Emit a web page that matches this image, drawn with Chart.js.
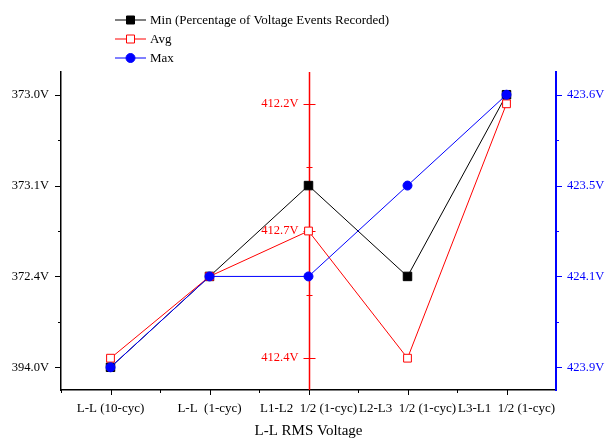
<!DOCTYPE html>
<html>
<head>
<meta charset="utf-8">
<script src="https://cdn.jsdelivr.net/npm/chart.js@4.4.1/dist/chart.umd.min.js"></script>
<style>
  html, body { margin: 0; padding: 0; background: #fff; }
</style>
</head>
<body>
<canvas id="spannungsDiagramm" width="616" height="439"></canvas>
<script>
// Kategorien der x-Achse
const kategorien = ['L-L (10-cyc)', 'L-L  (1-cyc)', 'L1-L2  1/2 (1-cyc)', 'L2-L3  1/2 (1-cyc)', 'L3-L1  1/2 (1-cyc)'];

// Werte (auf gemeinsamer Skala, Ticks 0..3)
const minWerte = [0, 1, 2, 1, 3];
const avgWerte = [0.1, 1, 1.5, 0.1, 2.9];
const maxWerte = [0, 1, 1, 2, 3];

// Achsenbeschriftungen
const linksTicks = [0, 1, 2, 3];
const linksLabels = ['394.0V', '372.4V', '373.1V', '373.0V'];   // schwarz, links
const rechtsLabels = ['423.9V', '424.1V', '423.5V', '423.6V'];  // blau, rechts
const mitteTicks = [0.1, 1.5, 2.9];
const mitteLabels = ['412.4V', '412.7V', '412.2V'];             // rot, Mitte
const mitteNebenTicks = [0.8, 2.2];
const mitteKategorie = 2;

const schrift = 'Liberation Serif';
Chart.defaults.font.family = schrift;

function strich(ctx, x1, y1, x2, y2) {
  ctx.beginPath();
  ctx.moveTo(x1, y1);
  ctx.lineTo(x2, y2);
  ctx.stroke();
}

// Zeichnet die rote Mittelachse und alle Tick-Striche
const achsenStriche = {
  id: 'achsenStriche',
  beforeDatasetsDraw(chart) {
    const { ctx, chartArea, scales: { x, y } } = chart;
    const xm = Math.round(x.getPixelForValue(mitteKategorie)) + 0.5;
    ctx.save();
    ctx.strokeStyle = '#ff0000';
    ctx.lineWidth = 1.5;
    strich(ctx, xm, chartArea.top, xm, chartArea.bottom);
    ctx.lineWidth = 1;
    mitteTicks.forEach(v => {
      const py = Math.round(y.getPixelForValue(v)) + 0.5;
      strich(ctx, xm - 6, py, xm + 6, py);
    });
    mitteNebenTicks.forEach(v => {
      const py = Math.round(y.getPixelForValue(v)) + 0.5;
      strich(ctx, xm - 3, py, xm + 3, py);
    });
    ctx.fillStyle = '#ff0000';
    ctx.font = '12.5px "' + schrift + '"';
    ctx.textAlign = 'right';
    ctx.textBaseline = 'middle';
    mitteTicks.forEach((v, i) => {
      ctx.fillText(mitteLabels[i], xm - 11, y.getPixelForValue(v));
    });
    ctx.restore();
  },
  afterDraw(chart) {
    const { ctx, chartArea, scales: { x, y } } = chart;
    ctx.save();
    ctx.lineWidth = 1;
    // links + rechts
    const l = chartArea.left, r = chartArea.right;
    linksTicks.forEach(v => {
      const py = Math.round(y.getPixelForValue(v)) + 0.5;
      ctx.strokeStyle = '#000';
      strich(ctx, l - 6, py, l, py);
      ctx.strokeStyle = '#0000ff';
      strich(ctx, r, py, r + 6, py);
      if (v < 3) {
        const pm = Math.round(y.getPixelForValue(v + 0.5)) + 0.5;
        ctx.strokeStyle = '#000';
        strich(ctx, l - 3, pm, l, pm);
        ctx.strokeStyle = '#0000ff';
        strich(ctx, r, pm, r + 3, pm);
      }
    });
    // x-Achse
    const b = chartArea.bottom;
    const halb = (x.getPixelForValue(1) - x.getPixelForValue(0)) / 2;
    ctx.strokeStyle = '#000';
    kategorien.forEach((k, i) => {
      const px = Math.round(x.getPixelForValue(i)) + 0.5;
      strich(ctx, px, b, px, b + 5);
      const pb = Math.round(x.getPixelForValue(i) - halb) + 0.5;
      strich(ctx, pb, b, pb, b + 3);
    });
    ctx.restore();
  }
};

// Legende oben, untereinander
const legendeOben = {
  id: 'legendeOben',
  afterDraw(chart) {
    const { ctx } = chart;
    const zeilen = [20, 39, 58];
    const x0 = 115, x1 = 146, xm = 130.5, xt = 150;
    ctx.save();
    ctx.font = '13px "' + schrift + '"';
    ctx.textBaseline = 'middle';
    ctx.textAlign = 'left';
    chart.data.datasets.forEach((ds, i) => {
      const yy = zeilen[i];
      ctx.strokeStyle = ds.borderColor;
      ctx.lineWidth = 1;
      strich(ctx, x0, yy, x1, yy);
      ctx.fillStyle = ds.pointBackgroundColor;
      ctx.strokeStyle = ds.borderColor;
      ctx.beginPath();
      if (ds.pointStyle === 'circle') {
        ctx.arc(xm, yy, 4.5, 0, Math.PI * 2);
      } else {
        ctx.rect(xm - 4, yy - 4, 8, 8);
      }
      ctx.fill();
      ctx.stroke();
      ctx.fillStyle = '#000';
      ctx.fillText(ds.label, xt, yy + 1);
    });
    ctx.restore();
  }
};

const tickSchrift = { family: schrift, size: 12.5 };

new Chart(document.querySelector('#spannungsDiagramm'), {
  type: 'line',
  data: {
    labels: kategorien,
    datasets: [
      {
        label: 'Min (Percentage of Voltage Events Recorded)',
        data: minWerte,
        borderColor: '#000000',
        borderWidth: 1,
        pointStyle: 'rect',
        pointRadius: 6,
        pointBackgroundColor: '#000000',
        pointBorderColor: '#000000',
        pointBorderWidth: 1,
        order: 3
      },
      {
        label: 'Avg',
        data: avgWerte,
        borderColor: '#ff0000',
        borderWidth: 1,
        pointStyle: 'rect',
        pointRadius: 5.5,
        pointBackgroundColor: '#ffffff',
        pointBorderColor: '#ff0000',
        pointBorderWidth: 1,
        order: 2
      },
      {
        label: 'Max',
        data: maxWerte,
        borderColor: '#0000ff',
        borderWidth: 1,
        pointStyle: 'circle',
        pointRadius: 4.5,
        pointBackgroundColor: '#0000ff',
        pointBorderColor: '#0000ff',
        pointBorderWidth: 1,
        order: 1
      }
    ]
  },
  options: {
    responsive: false,
    animation: false,
    layout: { padding: { top: 72, left: 0, right: 0, bottom: 0 } },
    plugins: {
      legend: { display: false },
      tooltip: { enabled: false }
    },
    scales: {
      x: {
        type: 'category',
        offset: true,
        grid: { display: false, drawTicks: false },
        border: { color: '#000', width: 1.5 },
        ticks: { color: '#000', font: { family: schrift, size: 13 }, padding: 11, maxRotation: 0, autoSkip: false },
        title: {
          display: true,
          text: 'L-L RMS Voltage',
          color: '#000',
          font: { family: schrift, size: 15, lineHeight: 1 },
          padding: 0
        },
        afterFit: s => { s.height = 49; }
      },
      y: {
        position: 'left',
        min: -0.25,
        max: 3.25,
        afterBuildTicks: s => { s.ticks = linksTicks.map(v => ({ value: v })); },
        grid: { display: false, drawTicks: false },
        border: { color: '#000', width: 1.5 },
        ticks: {
          color: '#000',
          font: tickSchrift,
          padding: 12,
          callback: (v, i) => linksLabels[i]
        },
        afterFit: s => { s.width = 61; }
      },
      y2: {
        position: 'right',
        min: -0.25,
        max: 3.25,
        afterBuildTicks: s => { s.ticks = linksTicks.map(v => ({ value: v })); },
        grid: { display: false, drawTicks: false },
        border: { color: '#0000ff', width: 2 },
        ticks: {
          color: '#0000ff',
          font: tickSchrift,
          padding: 11,
          callback: (v, i) => rechtsLabels[i]
        },
        afterFit: s => { s.width = 60; }
      }
    }
  },
  plugins: [achsenStriche, legendeOben]
});
</script>
</body>
</html>
